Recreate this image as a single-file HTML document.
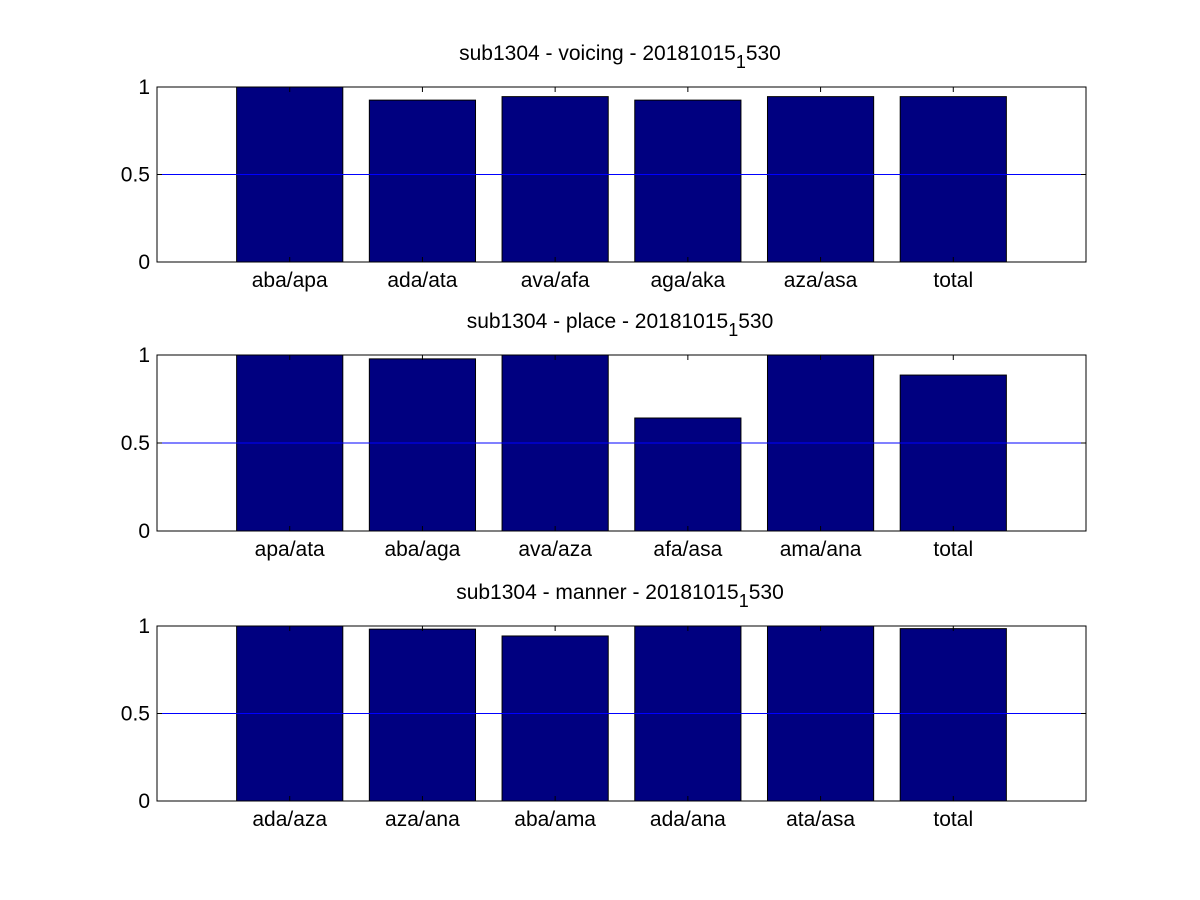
<!DOCTYPE html>
<html><head><meta charset="utf-8"><style>
body{margin:0;background:#fff;}
svg{display:block;font-family:"Liberation Sans",sans-serif;}
</style></head><body>
<svg id="chart" width="1200" height="900"></svg>
<script>
const titles = ["sub1304 - voicing - 20181015", "sub1304 - place - 20181015", "sub1304 - manner - 20181015"];
const cats1 = ["aba/apa","ada/ata","ava/afa","aga/aka","aza/asa","total"];
const cats2 = ["apa/ata","aba/aga","ava/aza","afa/asa","ama/ana","total"];
const cats3 = ["ada/aza","aza/ana","aba/ama","ada/ana","ata/asa","total"];
const vals1 = [1, 0.925, 0.945, 0.925, 0.945, 0.945];
const vals2 = [1, 0.978, 1, 0.642, 1, 0.886];
const vals3 = [1, 0.982, 0.943, 1, 1, 0.985];
const yTicks = [0, 0.5, 1];
const yTickLabels = ["0", "0.5", "1"];

const NS = "http://www.w3.org/2000/svg";
const svg = document.getElementById("chart");
function mk(tag, attrs, parent){const e=document.createElementNS(NS,tag);for(const k in attrs)e.setAttribute(k,attrs[k]);(parent||svg).appendChild(e);return e;}

const panels = [
  {top:87, bottom:262, cats:cats1, vals:vals1, title:titles[0], name:"voicing"},
  {top:355, bottom:531, cats:cats2, vals:vals2, title:titles[1], name:"place"},
  {top:626, bottom:801, cats:cats3, vals:vals3, title:titles[2], name:"manner"}
];
const L = 157, R = 1086;
panels.forEach((p) => {
  const g = mk("g", {});
  
  
  const x = v => L + v/7*(R-L);
  const y = v => p.bottom - v*(p.bottom-p.top);
  p.vals.forEach((v,i) => {
    const r = mk("rect", {x:x(i+1-0.4), y:y(v), width:x(0.8)-L, height:p.bottom-y(v), fill:"#000080", stroke:"#000", "stroke-width":1}, g);
    
    
  });
  const ref = mk("line", {x1:L, x2:R, y1:y(0.5), y2:y(0.5), stroke:"#0000ff", "stroke-width":1}, g);
  
  
  const box = mk("rect", {x:L, y:p.top, width:R-L, height:p.bottom-p.top, fill:"none", stroke:"#000", "stroke-width":1}, g);
  
  
  p.cats.forEach((c,i) => {
    mk("line", {x1:x(i+1), x2:x(i+1), y1:p.bottom, y2:p.bottom-5, stroke:"#000"}, g);
    mk("line", {x1:x(i+1), x2:x(i+1), y1:p.top, y2:p.top+5, stroke:"#000"}, g);
    const t = mk("text", {x:x(i+1), y:p.bottom+25, "text-anchor":"middle", "font-size":21}, g);
    t.textContent = c;
    
    
  });
  yTicks.forEach((v,i) => {
    mk("line", {x1:L, x2:L+5, y1:y(v), y2:y(v), stroke:"#000"}, g);
    mk("line", {x1:R, x2:R-5, y1:y(v), y2:y(v), stroke:"#000"}, g);
    const t = mk("text", {x:L-7, y:y(v)+7, "text-anchor":"end", "font-size":21}, g);
    t.textContent = yTickLabels[i];
    
    
  });
  const tt = mk("text", {x:620, y:p.top-27, "text-anchor":"middle", "font-size":21}, g);
  
  
  tt.appendChild(document.createTextNode(p.title));
  const s1 = mk("tspan", {dy:8, "font-size":18}, tt); s1.textContent = "1";
  const s2 = mk("tspan", {dy:-8}, tt); s2.textContent = "530";
});
</script>
</body></html>
